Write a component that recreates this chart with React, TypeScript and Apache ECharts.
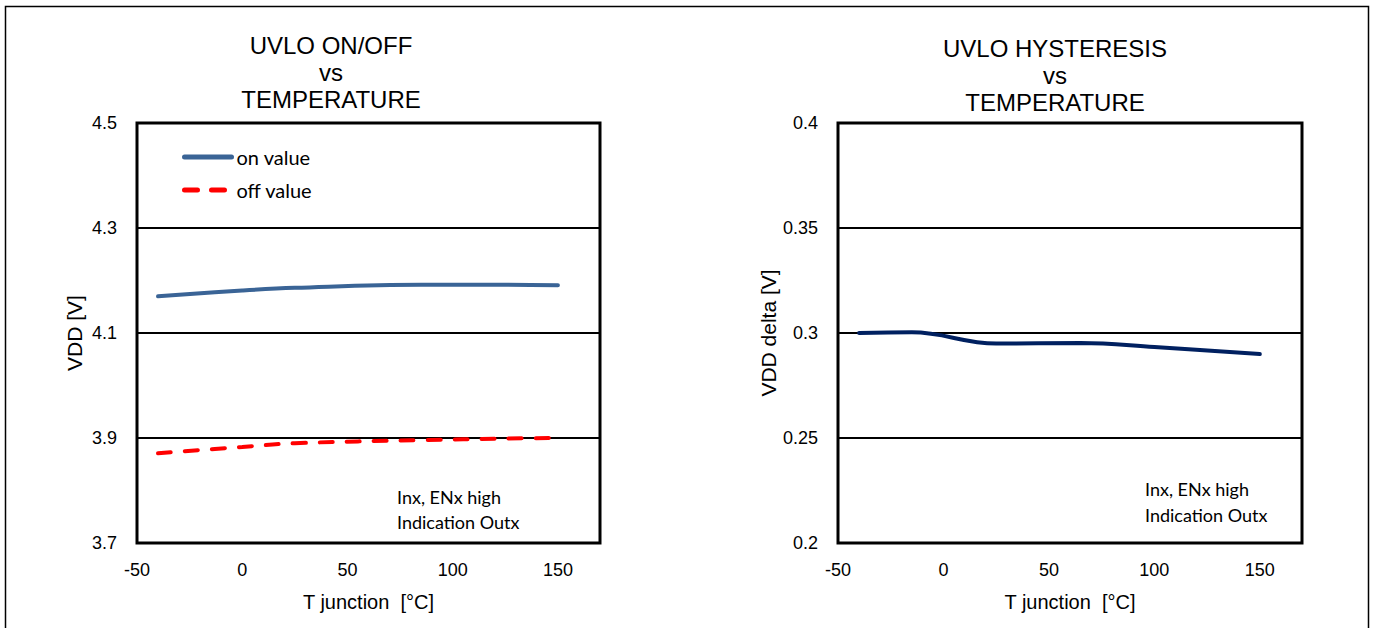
import React, { useEffect, useRef } from "react";
import * as echarts from "echarts";

// Left chart: UVLO on/off thresholds vs junction temperature
const onTemps = [-40, 0, 25, 85, 125, 150];
const onValues = [4.17, 4.181, 4.186, 4.192, 4.192, 4.191];
const offTemps = [-40, 0, 25, 85, 125, 150];
const offValues = [3.871, 3.883, 3.89, 3.896, 3.899, 3.9];

// Right chart: hysteresis vs junction temperature
const hystTemps = [-40, -15, 25, 65, 100, 150];
const hystValues = [0.3, 0.3003, 0.295, 0.2952, 0.2933, 0.29];

const leftTitle = "UVLO ON/OFF\nvs\nTEMPERATURE";
const rightTitle = "UVLO HYSTERESIS\nvs\nTEMPERATURE";
const xName = "T junction  [°C]";
const leftYName = "VDD [V]";
const rightYName = "VDD delta [V]";
const noteText = "Inx, ENx high\nIndication Outx";
const legendNames = ["on value", "off value"];

const pairs = (xs: number[], ys: number[]) => xs.map((x, i) => [x, ys[i]]);

const FONT = "'Liberation Sans', Arial, sans-serif";
const CAL = "Lato, 'Open Sans', sans-serif";
const ON_COLOR = "#3A6496";
const OFF_COLOR = "#FF0000";
const HYST_COLOR = "#002060";
const DASH = [13, 14];

export default function App() {
  const ref = useRef<HTMLDivElement>(null);
  useEffect(() => {
    if (!ref.current) return;
    const chart = echarts.init(ref.current, undefined, { renderer: "svg" });
    const xAxisBase = {
      type: "value",
      min: -50,
      max: 170,
      interval: 50,
      name: xName,
      nameLocation: "middle",
      nameGap: 49,
      nameTextStyle: { fontFamily: FONT, fontSize: 20, color: "#000" },
      axisLine: { show: false },
      axisTick: { show: false },
      splitLine: { show: false },
      axisLabel: {
        fontFamily: FONT,
        fontSize: 18,
        color: "#000",
        margin: 18,
        showMaxLabel: false,
        formatter: (v: number) => (Math.round(v) % 50 === 0 && v <= 150 ? String(Math.round(v)) : ""),
      },
    };
    const titleStyle = { fontFamily: FONT, fontSize: 24, fontWeight: "normal", color: "#000", lineHeight: 27 };
    const option: any = {
      animation: false,
      backgroundColor: "#fff",
      title: [
        { text: leftTitle, left: 326, top: 27, textAlign: "center", textStyle: titleStyle },
        { text: rightTitle, left: 1050, top: 30, textAlign: "center", textStyle: titleStyle },
      ],
      legend: {
        data: [
          { name: legendNames[0], itemStyle: { opacity: 0 }, lineStyle: { width: 5, color: ON_COLOR } },
          { name: legendNames[1], itemStyle: { opacity: 0 }, lineStyle: { width: 5, color: OFF_COLOR, type: DASH } },
        ],
        orient: "vertical",
        left: 177,
        top: 142,
        itemWidth: 47,
        itemHeight: 14,
        itemGap: 13,
        textStyle: { fontFamily: CAL, fontSize: 20, color: "#000", padding: [0, 0, 0, 0] },
      },
      grid: [
        { left: 137, right: 777, top: 123, bottom: 85, show: true, borderColor: "#000", borderWidth: 3, backgroundColor: "transparent" },
        { left: 838, right: 75, top: 123, bottom: 85, show: true, borderColor: "#000", borderWidth: 3, backgroundColor: "transparent" },
      ],
      xAxis: [
        { ...xAxisBase, gridIndex: 0 },
        { ...xAxisBase, gridIndex: 1 },
      ],
      yAxis: [
        {
          type: "value",
          gridIndex: 0,
          min: 3.7,
          max: 4.5,
          interval: 0.2,
          name: leftYName,
          nameLocation: "middle",
          nameGap: 52,
          nameTextStyle: { fontFamily: FONT, fontSize: 21, color: "#000" },
          axisLine: { show: false },
          axisTick: { show: false },
          splitLine: { show: true, lineStyle: { color: "#000", width: 2 } },
          axisLabel: {
            fontFamily: FONT,
            fontSize: 18,
            color: "#000",
            margin: 20,
            formatter: (v: number) => v.toFixed(1),
          },
        },
        {
          type: "value",
          gridIndex: 1,
          min: 0.2,
          max: 0.4,
          interval: 0.05,
          name: rightYName,
          nameLocation: "middle",
          nameGap: 59,
          nameTextStyle: { fontFamily: FONT, fontSize: 21, color: "#000" },
          axisLine: { show: false },
          axisTick: { show: false },
          splitLine: { show: true, lineStyle: { color: "#000", width: 2 } },
          axisLabel: {
            fontFamily: FONT,
            fontSize: 18,
            color: "#000",
            margin: 20,
            formatter: (v: number) => String(parseFloat(v.toFixed(2))),
          },
        },
      ],
      series: [
        {
          name: legendNames[0],
          type: "line",
          xAxisIndex: 0,
          yAxisIndex: 0,
          data: pairs(onTemps, onValues),
          smooth: 0.4,
          symbol: "none",
          lineStyle: { color: ON_COLOR, width: 4, cap: "round" },
          itemStyle: { color: ON_COLOR },
        },
        {
          name: legendNames[1],
          type: "line",
          xAxisIndex: 0,
          yAxisIndex: 0,
          data: pairs(offTemps, offValues),
          smooth: 0.4,
          symbol: "none",
          lineStyle: { color: OFF_COLOR, width: 4, type: DASH, cap: "round" },
          itemStyle: { color: OFF_COLOR },
        },
        {
          name: "hysteresis",
          type: "line",
          xAxisIndex: 1,
          yAxisIndex: 1,
          data: pairs(hystTemps, hystValues),
          smooth: 0.4,
          symbol: "none",
          lineStyle: { color: HYST_COLOR, width: 4, cap: "round" },
          itemStyle: { color: HYST_COLOR },
        },
      ],
      graphic: [
        {
          type: "rect",
          silent: true,
          shape: { x: 5.5, y: 6.5, width: 1363, height: 700 },
          style: { fill: "none", stroke: "#000", lineWidth: 1.5 },
        },
        {
          type: "text",
          left: 397,
          top: 484,
          style: { text: noteText, fontFamily: CAL, fontSize: 18, lineHeight: 25, fill: "#000" },
        },
        {
          type: "text",
          left: 1145,
          top: 476,
          style: { text: noteText, fontFamily: CAL, fontSize: 18, lineHeight: 26, fill: "#000" },
        },
      ],
    };
    chart.setOption(option);
    return () => chart.dispose();
  }, []);
  return (
    <div
      ref={ref}
      style={{ position: "fixed", left: 0, top: 0, width: 1377, height: 628, background: "#fff" }}
    />
  );
}
